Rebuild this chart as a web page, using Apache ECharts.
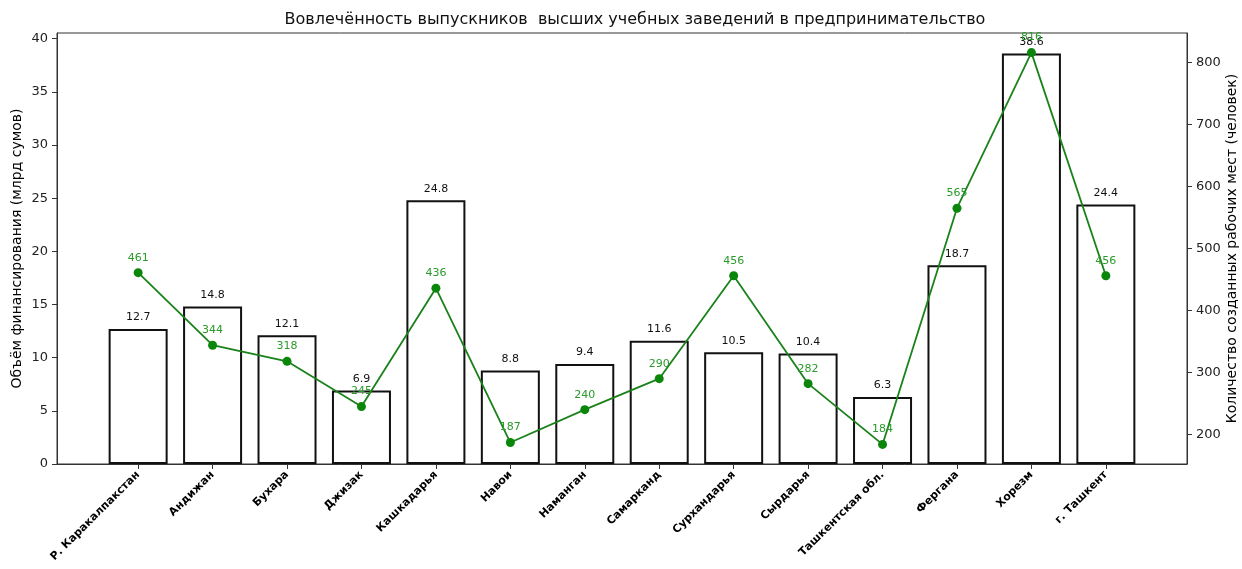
<!DOCTYPE html>
<html>
<head>
<meta charset="utf-8">
<script src="https://cdn.jsdelivr.net/npm/echarts@6/dist/echarts.min.js"></script>
<style>
  html, body { margin: 0; padding: 0; background: #fff; }
  #chart { width: 1242px; height: 569px; }
</style>
</head>
<body>
<div id="chart"></div>
<script>
const categories = ['Р. Каракалпакстан', 'Андижан', 'Бухара', 'Джизак', 'Кашкадарья', 'Навои', 'Наманган', 'Самарканд', 'Сурхандарья', 'Сырдарья', 'Ташкентская обл.', 'Фергана', 'Хорезм', 'г. Ташкент'];
const funding = [12.7, 14.8, 12.1, 6.9, 24.8, 8.8, 9.4, 11.6, 10.5, 10.4, 6.3, 18.7, 38.6, 24.4];
const jobs = [461, 344, 318, 245, 436, 187, 240, 290, 456, 282, 184, 565, 816, 456];
const leftTicks = [0, 5, 10, 15, 20, 25, 30, 35, 40];
const rightTicks = [200, 300, 400, 500, 600, 700, 800];

const FONT = 'DejaVu Sans';
const chart = echarts.init(document.getElementById('chart'), null, { renderer: 'canvas' });

const catIdx = categories.map((_, i) => i);
const xMin = -0.4 - 0.05 * 13.8, xMax = 13.4 + 0.05 * 13.8;
const fMax = Math.max(...funding);
const jMin = Math.min(...jobs), jMax = Math.max(...jobs);
const jPad = 0.05 * (jMax - jMin);

const option = {
  animation: false,
  backgroundColor: '#fff',
  textStyle: { fontFamily: FONT },
  title: {
    text: 'Вовлечённость выпускников  высших учебных заведений в предпринимательство',
    left: 630, top: 7, textAlign: 'center',
    textStyle: { fontFamily: FONT, fontSize: 16, fontWeight: 'normal', color: '#111' }
  },
  grid: { left: 57, right: 55, top: 33, bottom: 105, containLabel: false, outerBoundsMode: 'none', show: true, borderColor: '#333', borderWidth: 1, backgroundColor: 'transparent' },
  xAxis: {
    type: 'value', min: xMin, max: xMax,
    axisLine: { show: true, onZero: false, lineStyle: { color: '#333', width: 1 } },
    axisTick: { show: true, customValues: catIdx, length: 5, lineStyle: { color: '#333' } },
    splitLine: { show: false },
    axisLabel: {
      customValues: catIdx, rotate: 45, margin: 9,
      formatter: v => categories[Math.round(v)],
      fontFamily: FONT, fontSize: 11, fontWeight: 'bold', color: '#000'
    }
  },
  yAxis: [
    {
      type: 'value', min: 0, max: fMax * 1.05, position: 'left',
      name: 'Объём финансирования (млрд сумов)', nameLocation: 'middle', nameGap: 33, nameRotate: 90, nameMoveOverlap: false,
      nameTextStyle: { fontFamily: FONT, fontSize: 14, color: '#000' },
      axisLine: { show: true, onZero: false, lineStyle: { color: '#333' } },
      axisTick: { show: true, customValues: leftTicks, length: 5, lineStyle: { color: '#333' } },
      splitLine: { show: false },
      axisLabel: { customValues: leftTicks, margin: 9, fontFamily: FONT, fontSize: 13, color: '#222' }
    },
    {
      type: 'value', min: jMin - jPad, max: jMax + jPad, position: 'right',
      name: 'Количество созданных рабочих мест (человек)', nameLocation: 'middle', nameGap: 38, nameRotate: 90, nameMoveOverlap: false,
      nameTextStyle: { fontFamily: FONT, fontSize: 14, color: '#000' },
      axisLine: { show: true, onZero: false, lineStyle: { color: '#333' } },
      axisTick: { show: true, customValues: rightTicks, length: 5, lineStyle: { color: '#333' } },
      splitLine: { show: false },
      axisLabel: { customValues: rightTicks, margin: 9, fontFamily: FONT, fontSize: 13, color: '#222' }
    }
  ],
  series: [
    {
      type: 'bar', xAxisIndex: 0, yAxisIndex: 0,
      data: funding.map((v, i) => [i, v]),
      barWidth: 59,
      itemStyle: { color: '#fff', borderColor: '#111', borderWidth: 2 },
      label: { show: true, position: 'top', distance: 6, formatter: p => p.value[1].toFixed(1), fontFamily: FONT, fontSize: 11, color: '#111' },
      z: 2
    },
    {
      type: 'line', xAxisIndex: 0, yAxisIndex: 1,
      data: jobs.map((v, i) => [i, v]),
      symbol: 'circle', symbolSize: 9,
      lineStyle: { color: '#1a821a', width: 1.8 },
      itemStyle: { color: '#0a870a' },
      label: { show: true, position: 'top', distance: 5, formatter: p => p.value[1], fontFamily: FONT, fontSize: 11, color: '#2a9a2a' },
      z: 5
    }
  ]
};
chart.setOption(option);
</script>
</body>
</html>
